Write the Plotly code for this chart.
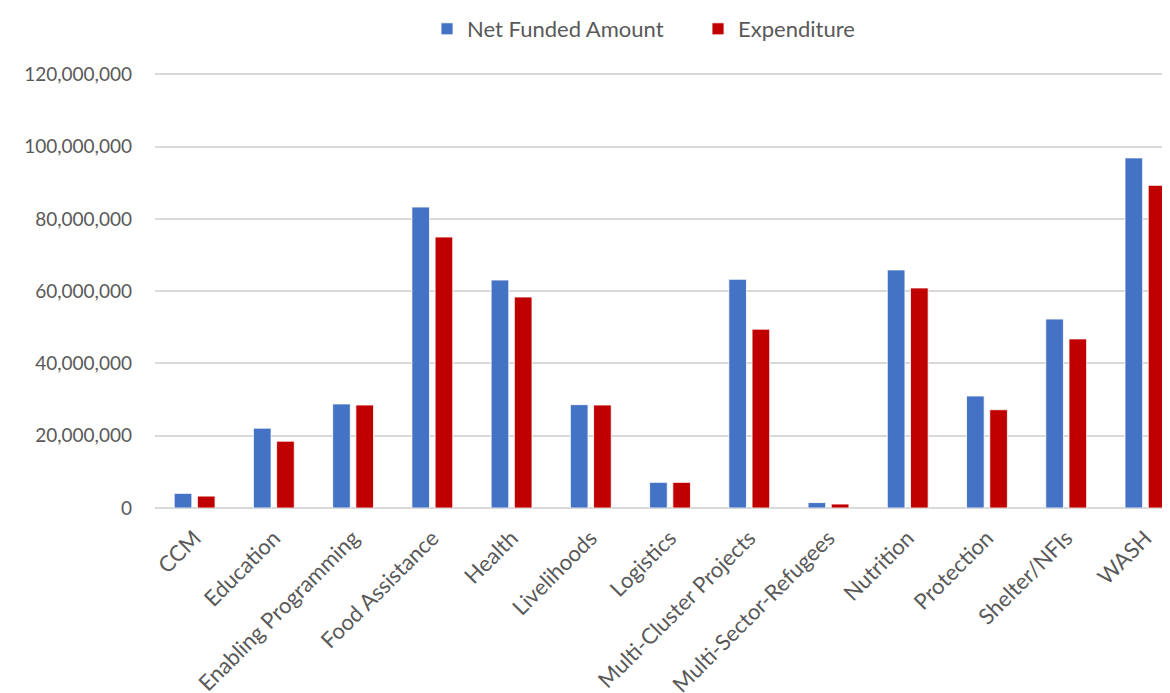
import plotly.graph_objects as go

categories = ["CCM", "Education", "Enabling Programming", "Food Assistance", "Health",
              "Livelihoods", "Logistics", "Multi-Cluster Projects", "Multi-Sector-Refugees",
              "Nutrition", "Protection", "Shelter/NFIs", "WASH"]
net_funded = [4.05e6, 22.1e6, 28.8e6, 83.3e6, 63.1e6, 28.6e6, 7.1e6, 63.3e6, 1.5e6,
              65.9e6, 31.0e6, 52.3e6, 96.9e6]
expenditure = [3.3e6, 18.5e6, 28.5e6, 75.0e6, 58.4e6, 28.5e6, 7.1e6, 49.5e6, 1.1e6,
               60.9e6, 27.2e6, 46.8e6, 89.3e6]
series_names = ["Net Funded Amount", "Expenditure"]
tick_vals = [0, 20e6, 40e6, 60e6, 80e6, 100e6, 120e6]
tick_text = ["0", "20,000,000", "40,000,000", "60,000,000", "80,000,000", "100,000,000", "120,000,000"]

FONT = "Lato"
GRAY = "#595959"

fig = go.Figure()
fig.add_trace(go.Bar(x=categories, y=net_funded, name=series_names[0],
                     marker=dict(color="#4472C4", line=dict(color="white", width=0.8))))
fig.add_trace(go.Bar(x=categories, y=expenditure, name=series_names[1],
                     marker=dict(color="#C00000", line=dict(color="white", width=0.8))))

# page body has an 8px margin: compensate so the plot lands where the reference has it
fig.update_layout(
    width=1162, height=685,
    margin=dict(l=147, r=0, t=65, b=185, autoexpand=False),
    paper_bgcolor="white", plot_bgcolor="white",
    barmode="group", bargap=0.414, bargroupgap=0.24,
    font=dict(family=FONT, size=19, color=GRAY),
    legend=dict(orientation="h", x=0.268, xanchor="left", y=1.0, yref="container",
                yanchor="top", font=dict(size=22, color=GRAY), itemwidth=30,
                entrywidth=226, bgcolor="rgba(0,0,0,0)"),
    xaxis=dict(range=[-0.5, 12.31], tickangle=-45, showgrid=False, ticks="",
               showline=False, ticklabelstandoff=12,
               tickfont=dict(size=22, color=GRAY)),
    yaxis=dict(range=[0, 120.4e6], tickvals=tick_vals, ticktext=tick_text,
               showgrid=True, gridcolor="#D9D9D9", gridwidth=1.5,
               zeroline=True, zerolinecolor="#D9D9D9", zerolinewidth=2,
               ticks="", ticklabelstandoff=22, tickfont=dict(size=19, color=GRAY)),
)

fig.write_html("out.html")
